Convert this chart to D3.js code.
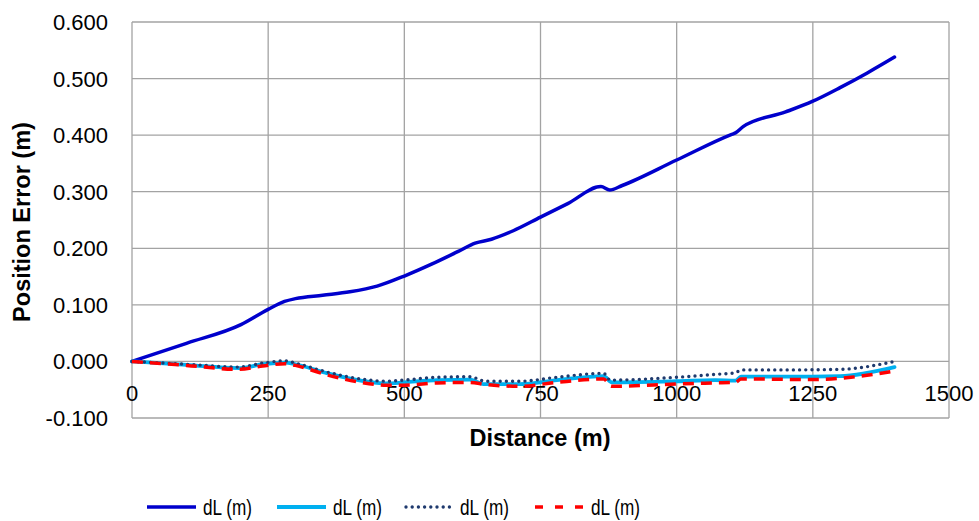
<!DOCTYPE html>
<html>
<head>
<meta charset="utf-8">
<script src="https://cdn.jsdelivr.net/npm/d3@7"></script>
<style>
  body { margin: 0; background: #fff; }
  svg text { font-family: "Liberation Sans", Arial, sans-serif; fill: #000; }
</style>
</head>
<body>
<div id="chart"></div>
<script>
// x ticks and y ticks
const xTicks = [0, 250, 500, 750, 1000, 1250, 1500];
const yTicks = [-0.1, 0, 0.1, 0.2, 0.3, 0.4, 0.5, 0.6];

// series: [distance, error]
const darkBlue = [[0, 0], [100, 0.032], [200, 0.065], [250, 0.092], [280, 0.106], [300, 0.111], [350, 0.117], [400, 0.123],
  [450, 0.133], [500, 0.151], [550, 0.172], [600, 0.195], [630, 0.209], [660, 0.216], [700, 0.231], [750, 0.255],
  [800, 0.279], [861, 0.309], [877, 0.303], [900, 0.311], [1000, 0.356], [1100, 0.401], [1108, 0.404], [1122, 0.415],
  [1200, 0.441], [1250, 0.460], [1300, 0.484], [1350, 0.510], [1400, 0.538]];
const cyan = [[0, 0], [100, -0.006], [196, -0.012], [240, -0.005], [281, -0.002], [300, -0.005], [355, -0.020], [420, -0.034],
  [468, -0.039], [500, -0.037], [560, -0.033], [620, -0.032], [645, -0.040], [712, -0.040], [780, -0.033], [866, -0.026],
  [881, -0.037], [1000, -0.035], [1070, -0.033], [1108, -0.034], [1118, -0.027], [1200, -0.027], [1300, -0.026], [1400, -0.010]];
const navyDotted = [[0, 0], [100, -0.005], [196, -0.010], [240, -0.003], [281, 0.001], [300, -0.003], [355, -0.018], [420, -0.031],
  [468, -0.035], [500, -0.033], [560, -0.028], [620, -0.027], [650, -0.035], [712, -0.035], [780, -0.028], [866, -0.021],
  [878, -0.033], [1000, -0.028], [1070, -0.023], [1108, -0.020], [1118, -0.015], [1200, -0.015], [1300, -0.014], [1400, 0.000]];
const redDashed = [[0, 0], [100, -0.007], [196, -0.014], [240, -0.008], [281, -0.004], [300, -0.007], [355, -0.023], [420, -0.037],
  [468, -0.042], [500, -0.042], [560, -0.038], [620, -0.037], [650, -0.041], [712, -0.044], [780, -0.037], [866, -0.031],
  [880, -0.044], [1000, -0.040], [1070, -0.038], [1108, -0.037], [1118, -0.031], [1250, -0.032], [1320, -0.028], [1400, -0.017]];

const seriesNames = ["dL (m)", "dL (m)", "dL (m)", "dL (m)"];

const W = 979, H = 521;
const plot = { left: 132, right: 949, top: 22, bottom: 418 };

const svg = d3.select("#chart").append("svg")
  .attr("width", W).attr("height", H);

const x = d3.scaleLinear().domain([0, 1500]).range([plot.left, plot.right]);
const y = d3.scaleLinear().domain([-0.1, 0.6]).range([plot.bottom, plot.top]);

// gridlines
const grid = svg.append("g").attr("stroke", "#a3a3a3").attr("stroke-width", 1.3);
yTicks.forEach(t => {
  grid.append("line").attr("x1", plot.left).attr("x2", plot.right).attr("y1", y(t)).attr("y2", y(t));
});
xTicks.forEach(t => {
  grid.append("line").attr("x1", x(t)).attr("x2", x(t)).attr("y1", plot.top).attr("y2", plot.bottom);
});

// y tick labels (plain hyphen like the original)
svg.append("g").selectAll("text").data(yTicks).join("text")
  .attr("x", 108).attr("y", d => y(d) + 8)
  .attr("text-anchor", "end")
  .attr("font-size", 22)
  .text(d => d3.format(".3f")(d).replace("\u2212", "-"));

// x tick labels sit under the zero line
svg.append("g").selectAll("text").data(xTicks).join("text")
  .attr("x", d => x(d)).attr("y", y(0) + 40)
  .attr("text-anchor", "middle")
  .attr("font-size", 22)
  .text(d => d);

// axis titles
svg.append("text")
  .attr("transform", `translate(30,${(plot.top + plot.bottom) / 2 + 2}) rotate(-90)`)
  .attr("text-anchor", "middle")
  .attr("font-size", 23.5).attr("font-weight", "bold")
  .text("Position Error (m)");
svg.append("text")
  .attr("x", 540).attr("y", 446)
  .attr("text-anchor", "middle")
  .attr("font-size", 23.5).attr("font-weight", "bold")
  .text("Distance (m)");

const line = d3.line()
  .x(d => x(d[0])).y(d => y(d[1]))
  .curve(d3.curveMonotoneX);

const styles = [
  { data: darkBlue, color: "#0000cc", width: 3.5, dash: null, legDash: null, cap: "butt" },
  { data: cyan, color: "#00b0f0", width: 3.8, dash: null, legDash: null, cap: "butt" },
  { data: navyDotted, color: "#1f3a6e", width: 3.4, dash: "0 6.2", legDash: "0 6.2", cap: "round" },
  { data: redDashed, color: "#ff0000", width: 3.5, dash: "11 7", legDash: "8 12", cap: "butt" }
];

styles.forEach(s => {
  svg.append("path")
    .datum(s.data)
    .attr("d", line)
    .attr("fill", "none")
    .attr("stroke", s.color)
    .attr("stroke-width", s.width)
    .attr("stroke-linecap", s.cap === "butt" && !s.dash ? "round" : s.cap)
    .attr("stroke-linejoin", "round")
    .attr("stroke-dasharray", s.dash);
});

// legend
const legendX = [147, 277, 404, 535];
const legendY = 507;
const lg = svg.append("g");
styles.forEach((s, i) => {
  lg.append("line")
    .attr("x1", legendX[i] + (s.cap === "round" ? 2 : 0)).attr("x2", legendX[i] + 49)
    .attr("y1", legendY).attr("y2", legendY)
    .attr("stroke", s.color)
    .attr("stroke-width", s.width)
    .attr("stroke-linecap", s.cap)
    .attr("stroke-dasharray", s.legDash);
  lg.append("text")
    .attr("transform", `translate(${legendX[i] + 56},${legendY + 8}) scale(0.78,1)`)
    .attr("font-size", 22)
    .text(seriesNames[i]);
});
</script>
</body>
</html>
